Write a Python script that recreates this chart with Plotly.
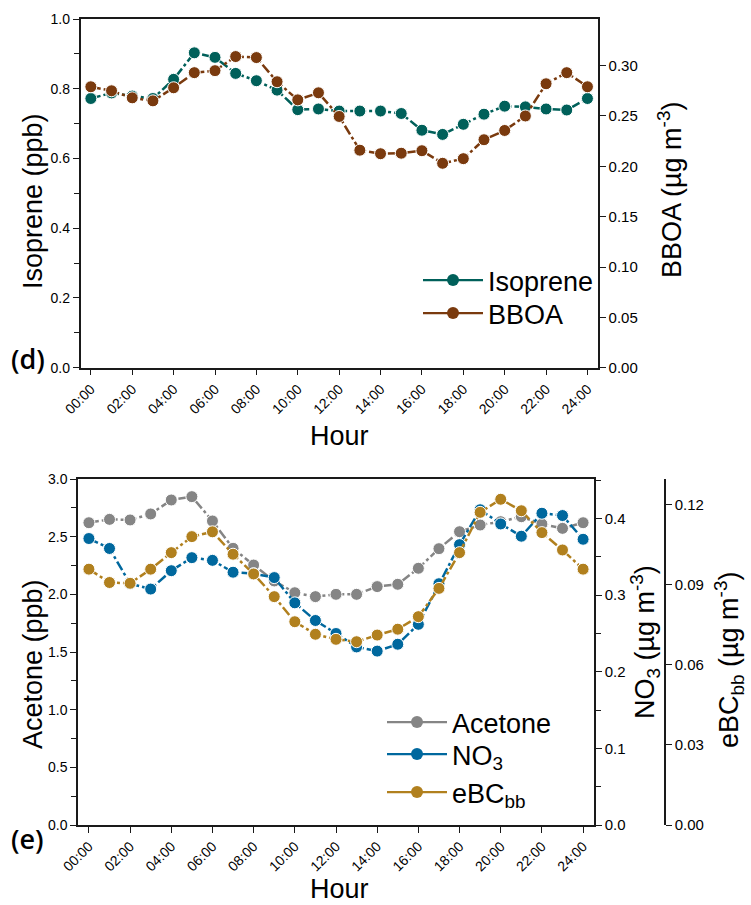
import plotly.graph_objects as go

W, H = 751, 905

hours = list(range(25))
hour_ticks = list(range(0, 25, 2))
hour_labels = ["%02d:00" % h for h in hour_ticks]

isoprene = [0.772, 0.788, 0.779, 0.772, 0.827, 0.903, 0.890, 0.844, 0.823, 0.796,
            0.740, 0.742, 0.736, 0.736, 0.736, 0.729, 0.681, 0.669, 0.698, 0.727,
            0.750, 0.748, 0.742, 0.739, 0.772]
bboa = [0.279, 0.275, 0.268, 0.265, 0.278, 0.293, 0.295, 0.309, 0.308, 0.284,
        0.266, 0.273, 0.2495, 0.216, 0.2125, 0.213, 0.2155, 0.203, 0.2076, 0.2264,
        0.2356, 0.250, 0.282, 0.293, 0.279]
acetone = [2.621, 2.650, 2.645, 2.697, 2.818, 2.847, 2.636, 2.399, 2.254, 2.116,
           2.014, 1.980, 2.000, 2.000, 2.067, 2.087, 2.226, 2.396, 2.543, 2.601,
           2.630, 2.673, 2.610, 2.572, 2.621]
no3 = [0.374, 0.361, 0.315, 0.308, 0.332, 0.349, 0.3455, 0.330, 0.328, 0.323,
       0.290, 0.267, 0.250, 0.2325, 0.227, 0.236, 0.262, 0.315, 0.366, 0.4116,
       0.393, 0.377, 0.407, 0.404, 0.373]
ebc = [0.0959, 0.0909, 0.0906, 0.0959, 0.1021, 0.1081, 0.1099, 0.1015, 0.0941, 0.0856,
       0.0762, 0.0715, 0.0696, 0.0687, 0.0712, 0.0734, 0.0781, 0.0887, 0.1021, 0.1172,
       0.1221, 0.1178, 0.1096, 0.1031, 0.0959]

C_ISO = "#00605A"
C_BBOA = "#7A3A0E"
C_ACE = "#858585"
C_NO3 = "#00689E"
C_EBC = "#B1801E"

DASH = "10px,3px,3px,3px"
LW = 2.5
MS = 12

def px(x):
    return x / W

def py(y):
    return 1 - y / H

fig = go.Figure()

def series(x, y, xa, ya, color):
    fig.add_trace(go.Scatter(
        x=x, y=y, xaxis=xa, yaxis=ya, mode="lines+markers", showlegend=False,
        line=dict(color=color, width=LW, dash=DASH),
        marker=dict(symbol="circle", size=MS, color=color, line=dict(color="white", width=1)),
        hoverinfo="skip"))

def legend_item(name, color, xa, ya, leg):
    fig.add_trace(go.Scatter(
        x=[None], y=[None], xaxis=xa, yaxis=ya, mode="lines+markers", name=name,
        legend=leg, showlegend=True,
        line=dict(color=color, width=2.2),
        marker=dict(symbol="circle", size=MS, color=color)))

series(hours, isoprene, "x", "y", C_ISO)
series(hours, bboa, "x", "y2", C_BBOA)
series(hours, acetone, "x2", "y3", C_ACE)
series(hours, no3, "x2", "y4", C_NO3)
series(hours, ebc, "x2", "y5", C_EBC)

legend_item("Isoprene", C_ISO, "x", "y", "legend")
legend_item("BBOA", C_BBOA, "x", "y2", "legend2")
legend_item("Acetone", C_ACE, "x2", "y3", "legend3")
legend_item("NO<sub>3</sub>", C_NO3, "x2", "y4", "legend4")
legend_item("eBC<sub>bb</sub>", C_EBC, "x2", "y5", "legend5")

AX = "#1a1a1a"
tickfont = dict(family="Liberation Sans, Arial, sans-serif", size=15, color="black")
lefttickfont = dict(family="Liberation Sans, Arial, sans-serif", size=14, color="black")
xtickfont = dict(family="Liberation Sans, Arial, sans-serif", size=14, color="black")

common_x = dict(
    tickvals=hour_ticks, ticktext=hour_labels, tickangle=-45, ticks="outside",
    ticklen=6, tickwidth=1.2, tickcolor=AX, showline=True, linecolor=AX, linewidth=1.5,
    mirror=True, showgrid=False, zeroline=False, tickfont=xtickfont, automargin=False)

common_y = dict(ticks="outside", ticklen=6, tickwidth=1.2, tickcolor=AX, showline=True,
                linecolor=AX, linewidth=1.5, showgrid=False, zeroline=False, automargin=False)

legfont = dict(family="Liberation Sans, Arial, sans-serif", size=27, color="black")

def leg(x, ytop):
    return dict(x=px(x), y=py(ytop), xanchor="left", yanchor="top",
                bgcolor="rgba(0,0,0,0)", itemwidth=60, font=legfont)

fig.update_layout(
    width=W, height=H, margin=dict(l=0, r=0, t=0, b=0, autoexpand=False),
    paper_bgcolor="white", plot_bgcolor="white",
    xaxis=dict(domain=[px(80.5), px(597.8)], anchor="y", range=[-0.5, 24.5], **common_x),
    yaxis=dict(domain=[py(367.7), py(19)], anchor="x", range=[0, 1.0], dtick=0.2,
               tickformat=".1f", tickfont=lefttickfont,
               minor=dict(dtick=0.1, ticks="outside", ticklen=5, tickcolor=AX), **common_y),
    yaxis2=dict(overlaying="y", anchor="x", side="right", range=[0, 0.3463], dtick=0.05,
                tickformat=".2f", tickfont=tickfont, **common_y),
    xaxis2=dict(domain=[px(78), px(594)], anchor="y3", range=[-0.53, 24.53], **common_x),
    yaxis3=dict(domain=[py(825), py(479)], anchor="x2", range=[0, 3.0], dtick=0.5,
                tickformat=".1f", tickfont=lefttickfont,
                minor=dict(dtick=0.25, ticks="outside", ticklen=5, tickcolor=AX), **common_y),
    yaxis4=dict(overlaying="y3", anchor="x2", side="right", range=[0, 0.4517], dtick=0.1,
                tickformat=".1f", tickfont=tickfont,
                minor=dict(dtick=0.05, ticks="outside", ticklen=5, tickcolor=AX), **common_y),
    yaxis5=dict(overlaying="y3", anchor="free", position=px(665), side="right",
                range=[0, 0.1297], dtick=0.03, tickformat=".2f", tickfont=tickfont, **common_y),
    legend=leg(418, 256),
    legend2=leg(418, 289),
    legend3=leg(382, 698),
    legend4=leg(382, 730),
    legend5=leg(382, 768),
)

title_font = dict(family="Liberation Sans, Arial, sans-serif", size=27, color="black")
label_font = dict(family="Open Sans, Noto Sans, sans-serif", size=27, color="black", weight=600)

def ann(text, x, y, font, angle=0):
    fig.add_annotation(text=text, x=px(x), y=py(y), xref="paper", yref="paper",
                       xanchor="center", yanchor="middle", showarrow=False,
                       textangle=angle, font=font)

ann("Hour", 339, 436, title_font)
ann("Hour", 339, 889, title_font)
ann("Isoprene (ppb)", 33, 201, title_font, -90)
ann("BBOA (µg m<sup>-3</sup>)", 670, 190, title_font, -90)
ann("Acetone (ppb)", 33, 664, title_font, -90)
ann("NO<sub>3</sub> (µg m<sup>-3</sup>)", 645, 642, title_font, -90)
ann("eBC<sub>bb</sub> (µg m<sup>-3</sup>)", 729, 660, title_font, -90)
ann("(d)", 28, 358, label_font)
ann("(e)", 27, 838, label_font)

fig.write_html("out.html")
